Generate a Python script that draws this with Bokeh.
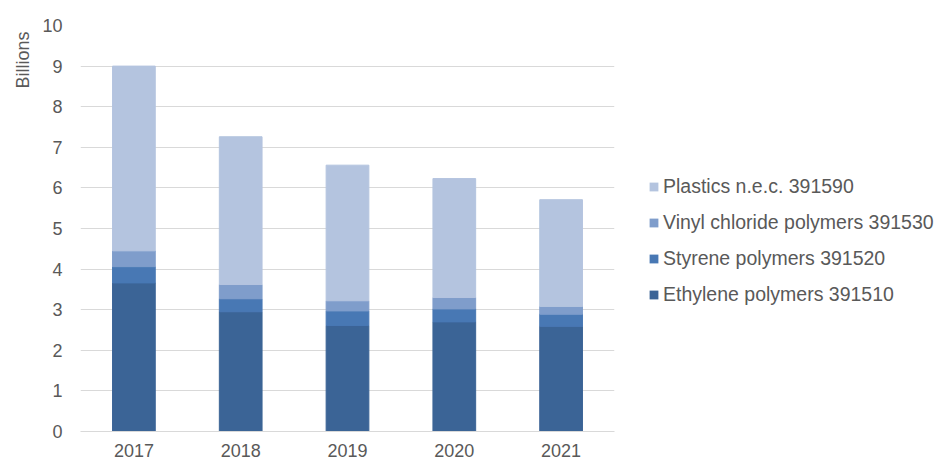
from bokeh.plotting import figure
from bokeh.layouts import row
from bokeh.models import FactorRange, Range1d, Legend, LegendItem, Title, FixedTicker
from bokeh.embed import file_html
from bokeh.resources import INLINE

years = ["2017", "2018", "2019", "2020", "2021"]
ethylene = [3.66, 2.95, 2.61, 2.70, 2.59]
styrene = [0.40, 0.32, 0.36, 0.32, 0.30]
vinyl = [0.39, 0.35, 0.25, 0.28, 0.19]
plastics = [4.55, 3.64, 3.34, 2.93, 2.63]

series = ["Ethylene polymers 391510", "Styrene polymers 391520",
          "Vinyl chloride polymers 391530", "Plastics n.e.c. 391590"]
colors = ["#3B6496", "#4878B4", "#7F9DCB", "#B4C4DF"]

FONT = "Liberation Sans"
TXT = "#595959"

data = {"year": years, series[0]: ethylene, series[1]: styrene,
        series[2]: vinyl, series[3]: plastics}

p = figure(x_range=FactorRange(*years, range_padding=0), y_range=Range1d(0, 10),
           width=624, height=461, output_backend="svg", toolbar_location=None,
           min_border_left=80, min_border_top=25, min_border_right=10, min_border_bottom=30)

renderers = p.vbar_stack(series, x="year", width=0.4, color=colors, source=data,
                         line_color=colors, line_width=1)

p.outline_line_color = None
p.xgrid.grid_line_color = None
p.ygrid.grid_line_color = "#D9D9D9"
p.ygrid.grid_line_width = 1.2
p.yaxis.ticker = FixedTicker(ticks=list(range(0, 11)))

for ax in (p.xaxis, p.yaxis):
    ax.axis_line_color = None
    ax.major_tick_line_color = None
    ax.minor_tick_line_color = None
    ax.major_tick_out = 0
    ax.major_tick_in = 0
    ax.major_label_text_font = FONT
    ax.major_label_text_font_size = "18px"
    ax.major_label_text_color = TXT

p.xaxis.axis_line_color = "#D9D9D9"
p.xaxis.axis_line_width = 1.2
p.xaxis.major_label_standoff = 12
p.yaxis.major_label_standoff = 18

p.add_layout(Title(text="Billions", align="right", text_font=FONT, text_font_size="18px",
                   text_color=TXT, text_font_style="normal", standoff=14, offset=6), "left")

# legend panel (separate figure, same height)
pl = figure(width=317, height=461, output_backend="svg", toolbar_location=None,
            x_range=Range1d(0, 1), y_range=Range1d(0, 1),
            min_border_left=0, min_border_right=0, min_border_top=0, min_border_bottom=0)
pl.axis.visible = False
pl.grid.grid_line_color = None
pl.outline_line_color = None

dummy = [pl.vbar(x=[0.5], top=[0], bottom=[0], width=0.1, fill_color=c, line_color=None)
         for c in colors]
items = [LegendItem(label=series[i], renderers=[dummy[i]]) for i in [3, 2, 1, 0]]
legend = Legend(items=items, location=(24, 125), glyph_width=11, glyph_height=11,
                label_standoff=4, spacing=13, label_height=22, padding=0, margin=0,
                label_text_font=FONT, label_text_font_size="19.5px", label_text_color=TXT,
                border_line_color=None, background_fill_alpha=0)
pl.add_layout(legend, "center")

layout = row(p, pl)
open("out.html", "w").write(file_html(layout, INLINE))
